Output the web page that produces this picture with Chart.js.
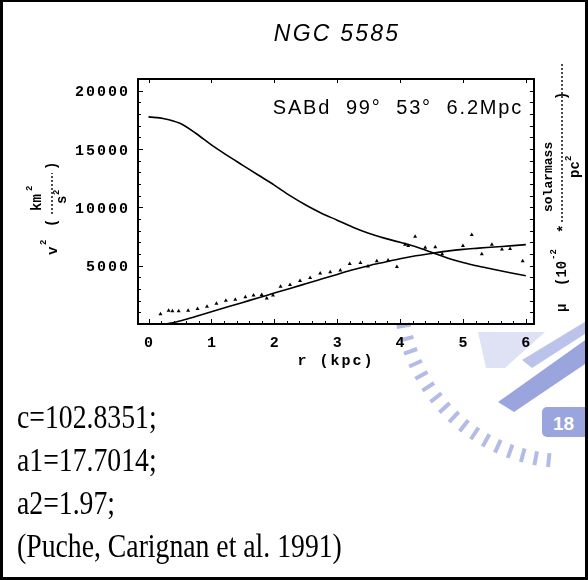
<!DOCTYPE html>
<html>
<head>
<meta charset="utf-8">
<script src="https://cdn.jsdelivr.net/npm/chart.js@4.4.1/dist/chart.umd.min.js"></script>
<style>
  html, body { margin: 0; padding: 0; background: #fff; }
  #page { position: relative; width: 588px; height: 580px; overflow: hidden; background: #fff; }
  #logo { position: absolute; left: 0; top: 0; }
  #wrap { position: absolute; left: 0; top: 0; width: 588px; height: 380px; }
  .note {
    position: absolute; left: 17px; white-space: nowrap;
    font-family: "Liberation Serif", "Times New Roman", serif;
    font-size: 33px; line-height: 33px; color: #000;
    transform: scaleX(0.84); transform-origin: left top;
  }
  #frame { position: absolute; left: 0; top: 0; width: 588px; height: 580px; box-sizing: border-box; border: 3px solid #000; border-top-width: 2px; pointer-events: none; }
</style>
</head>
<body>
<div id="page">
  <svg id="logo" width="588" height="580"></svg>
  <div id="wrap"><canvas id="chart" width="588" height="380"></canvas></div>
  <div id="frame"></div>
</div>
<script>
  // radius grid for the two model curves (kpc)
  const rGrid = [0, 0.25, 0.5, 0.75, 1, 1.25, 1.5, 1.75, 2, 2.25, 2.5, 2.75, 3,
                 3.25, 3.5, 3.75, 4, 4.25, 4.5, 4.75, 5, 5.25, 5.5, 5.75, 6];
  // surface density curve, 10^-2 solarmass/pc^2
  const muFit = [17750, 17600, 17200, 16350, 15350, 14450, 13600, 12750, 11900, 11000,
                 10200, 9500, 8900, 8300, 7780, 7360, 7000, 6620, 6150, 5660,
                 5270, 4950, 4670, 4400, 4140];
  // model v^2 curve, km^2/s^2
  const v2Fit = [0, 0, 250, 650, 1050, 1450, 1850, 2250, 2650, 3050,
                 3450, 3850, 4250, 4650, 5000, 5300, 5600, 5850, 6050, 6250,
                 6400, 6500, 6600, 6700, 6800];
  // observed rotation data (Puche, Carignan et al. 1991)
  const rObs = [0.19, 0.32, 0.38, 0.48, 0.63, 0.78, 0.93, 1.08, 1.23, 1.38, 1.54, 1.67, 1.8,
                1.88, 1.98, 2.1, 2.25, 2.41, 2.57, 2.73, 2.89, 3.05, 3.2, 3.37, 3.49, 3.63,
                3.81, 3.95, 4.08, 4.13, 4.24, 4.4, 4.56, 4.67, 5.0, 5.14, 5.3, 5.46, 5.62,
                5.75, 5.95];
  const v2Obs = [850, 1150, 1100, 1100, 1150, 1300, 1500, 1750, 2000, 2100, 2300, 2450, 2500,
                 2200, 2450, 3200, 3350, 3700, 3950, 4350, 4450, 4600, 5150, 5250, 4950, 5400,
                 5450, 4900, 6800, 6700, 7500, 6550, 6600, 6000, 6700, 7650, 6000, 6800, 6400,
                 6450, 5400];
  const xTickLabels = [0, 1, 2, 3, 4, 5, 6];
  const yTickLabels = [5000, 10000, 15000, 20000];
  const noteLines = ["c=102.8351;", "a1=17.7014;", "a2=1.97;", "(Puche, Carignan et al. 1991)"];

  const MONO = '"Liberation Mono", "DejaVu Sans Mono", monospace';

  function pts(xs, ys) {
    return xs.map(function (x, i) { return { x: x, y: ys[i] }; });
  }

  function txt(ctx, s, x, y, font, align, base, spacing) {
    ctx.font = font;
    ctx.textAlign = align || "left";
    ctx.textBaseline = base || "alphabetic";
    ctx.letterSpacing = (spacing || 0) + "px";
    ctx.fillText(s, x, y);
    ctx.letterSpacing = "0px";
  }

  function dashLine(ctx, x1, y1, x2, y2) {
    ctx.save();
    ctx.setLineDash([2, 2]);
    ctx.lineWidth = 1.4;
    ctx.beginPath();
    ctx.moveTo(x1, y1);
    ctx.lineTo(x2, y2);
    ctx.stroke();
    ctx.restore();
  }

  const framePlugin = {
    id: "frame",
    afterDatasetsDraw: function (chart) {
      const ctx = chart.ctx;
      const a = chart.chartArea;
      const xs = chart.scales.x;
      const ys = chart.scales.y;
      ctx.save();
      ctx.fillStyle = "#000";
      ctx.strokeStyle = "#000";

      // frame
      ctx.lineWidth = 2;
      ctx.strokeRect(a.left, a.top, a.right - a.left, a.bottom - a.top);

      // inward ticks
      ctx.lineWidth = 1;
      ctx.beginPath();
      for (let i = 0; i <= 30; i++) {
        const px = Math.round(xs.getPixelForValue(i * 0.2)) + 0.5;
        const len = i % 5 === 0 ? 5 : 3;
        ctx.moveTo(px, a.bottom); ctx.lineTo(px, a.bottom - len);
        if (i % 5 === 0) { ctx.moveTo(px, a.top); ctx.lineTo(px, a.top + 4); }
      }
      for (let v = 1000; v <= 20000; v += 1000) {
        const py = Math.round(ys.getPixelForValue(v)) + 0.5;
        const len = v % 5000 === 0 ? 5 : 3;
        ctx.moveTo(a.left, py); ctx.lineTo(a.left + len, py);
        ctx.moveTo(a.right, py); ctx.lineTo(a.right - 4, py);
      }
      ctx.stroke();

      // tick labels
      xTickLabels.forEach(function (v) {
        txt(ctx, String(v), xs.getPixelForValue(v) + 1, 347, "bold 15px " + MONO, "center", "alphabetic", 2);
      });
      yTickLabels.forEach(function (v) {
        txt(ctx, String(v), 130, ys.getPixelForValue(v) + 2, "bold 15px " + MONO, "right", "middle", 2);
      });

      // axis titles
      txt(ctx, "r (kpc)", 336, 365, "bold 15px " + MONO, "center", "alphabetic", 2);
      txt(ctx, "NGC 5585", 337, 41, "italic 23px \"Liberation Sans\", Arial, sans-serif", "center", "alphabetic", 2.2);
      txt(ctx, "SABd  99\u00b0  53\u00b0  6.2Mpc", a.right - 11, 114, "20px \"Liberation Sans\", Arial, sans-serif", "right", "alphabetic", 1.8);

      // left label: v^2 (km^2/s^2), rotated
      ctx.save();
      ctx.translate(52, 246);
      ctx.rotate(-Math.PI / 2);
      const f = "bold 14px " + MONO;
      const fs = "bold 9px " + MONO;
      txt(ctx, "v", -9, 1, f, "left", "middle");
      txt(ctx, "2", 1, -8, fs, "left", "middle");
      txt(ctx, "(", 19, 0, f, "left", "middle");
      txt(ctx, "km", 35, -15, f, "left", "middle");
      txt(ctx, "2", 55, -22, fs, "left", "middle");
      dashLine(ctx, 32, 0, 73, 0);
      txt(ctx, "s", 42, 10, f, "left", "middle");
      txt(ctx, "2", 51, 5, fs, "left", "middle");
      txt(ctx, ")", 76, 0, f, "left", "middle");
      ctx.restore();

      // right label: mu (10^-2 * solarmass/pc^2), rotated
      ctx.save();
      ctx.translate(562, 306);
      ctx.rotate(-Math.PI / 2);
      txt(ctx, "\u03bc", -6, 0, f, "left", "middle");
      txt(ctx, "(10", 20, 0, f, "left", "middle");
      txt(ctx, "-2", 46, -8, fs, "left", "middle");
      txt(ctx, "*", 73, 2, f, "left", "middle");
      dashLine(ctx, 84, 0, 244, 0);
      txt(ctx, "solarmass", 94, -13, "bold 13px " + MONO, "left", "middle", 0);
      txt(ctx, "pc", 128, 13, f, "left", "middle");
      txt(ctx, "2", 145, 7, fs, "left", "middle");
      txt(ctx, ")", 206, 0, f, "left", "middle");
      ctx.restore();

      ctx.restore();
    }
  };

  new Chart(document.getElementById("chart"), {
    type: "scatter",
    data: {
      datasets: [
        { label: "mu", type: "line", data: pts(rGrid, muFit), borderColor: "#000", borderWidth: 1.6,
          pointRadius: 0, tension: 0.4, cubicInterpolationMode: "monotone", fill: false },
        { label: "v2 model", type: "line", data: pts(rGrid, v2Fit), borderColor: "#000", borderWidth: 1.6,
          pointRadius: 0, tension: 0.4, cubicInterpolationMode: "monotone", fill: false },
        { label: "v2 observed", data: pts(rObs, v2Obs), pointStyle: "triangle", pointRadius: 2.3,
          backgroundColor: "#000", borderColor: "#000", borderWidth: 0 }
      ]
    },
    options: {
      responsive: false,
      animation: false,
      events: [],
      layout: { padding: { left: 138, right: 54, top: 79, bottom: 56 } },
      plugins: { legend: { display: false }, tooltip: { enabled: false } },
      scales: {
        x: { type: "linear", display: false, min: -0.167, max: 6.13 },
        y: { type: "linear", display: false, min: 0, max: 21000 }
      }
    },
    plugins: [framePlugin]
  });

  // notes below the chart
  const page = document.getElementById("page");
  noteLines.forEach(function (s, i) {
    const d = document.createElement("div");
    d.className = "note";
    d.style.top = (401 + i * 43) + "px";
    d.textContent = s;
    page.appendChild(d);
  });

  // faint watermark emblem, lower right
  (function () {
    const svg = document.getElementById("logo");
    const cx = 566, cy = 296;
    let html = "";
    for (let t = 96; t <= 170; t += 4.6) {
      const r = t * Math.PI / 180;
      const x1 = cx + 158 * Math.cos(r), y1 = cy + 158 * Math.sin(r);
      const x2 = cx + 172 * Math.cos(r), y2 = cy + 172 * Math.sin(r);
      html += '<line x1="' + x1 + '" y1="' + y1 + '" x2="' + x2 + '" y2="' + y2 + '" stroke="#b3bbe6" stroke-width="4"/>';
    }
    html += '<polygon points="478,332 545,332 505,368 486,368" fill="#dfe2f5"/>';
    html += '<polygon points="498,402 588,338 588,362 514,412" fill="#9aa5dd"/>';
    html += '<polygon points="522,360 588,320 588,332 532,368" fill="#bcc3ea"/>';
    html += '<rect x="542" y="407" width="60" height="30" rx="5" fill="#9aa5dd"/>';
    html += '<text x="553" y="430" font-family="Liberation Sans, Arial" font-weight="bold" font-size="19" fill="#fff">18</text>';
    svg.innerHTML = html;
  })();
</script>
</body>
</html>
